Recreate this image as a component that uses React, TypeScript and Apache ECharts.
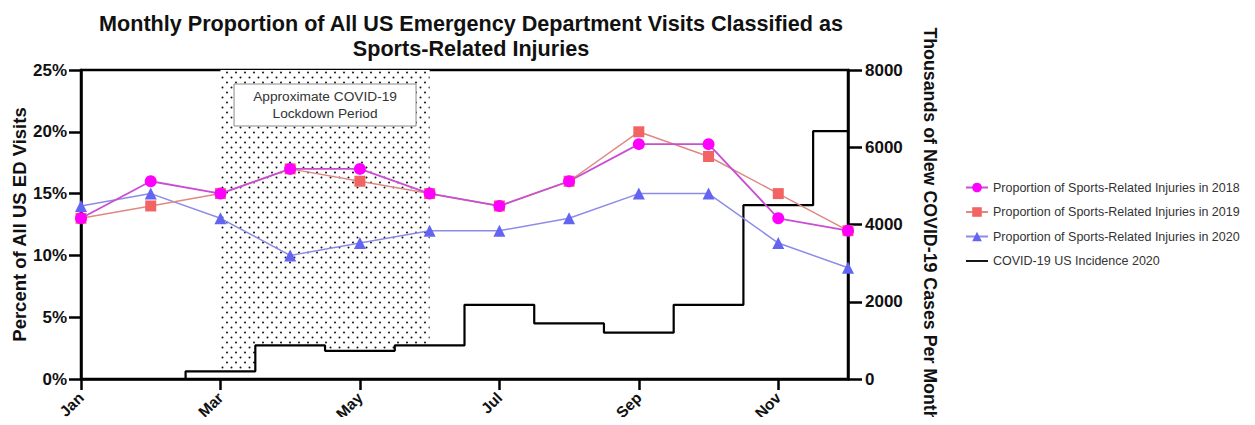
import React, { useEffect, useRef } from "react";
import * as echarts from "echarts";

const months = ["Jan", "Feb", "Mar", "Apr", "May", "Jun", "Jul", "Aug", "Sep", "Oct", "Nov", "Dec"];
const sports2018 = [13, 16, 15, 17, 17, 15, 14, 16, 19, 19, 13, 12];
const sports2019 = [13, 14, 15, 17, 16, 15, 14, 16, 20, 18, 15, 12];
const sports2020 = [14, 15, 13, 10, 11, 12, 12, 13, 15, 15, 11, 9];
const covidCases = [0, 0, 200, 870, 730, 870, 1920, 1440, 1200, 1920, 4500, 6420];
const lockdownStart = 2; // Mar
const lockdownEnd = 5; // Jun
const percentMax = 25;
const casesMax = 8000;

const FONT = "'Liberation Sans', Arial, Helvetica, sans-serif";

function makeDotCanvas(): HTMLCanvasElement {
  const c = document.createElement("canvas");
  c.width = 9;
  c.height = 10;
  const ctx = c.getContext("2d")!;
  ctx.fillStyle = "#ffffff";
  ctx.fillRect(0, 0, 9, 10);
  ctx.fillStyle = "#111111";
  ctx.beginPath();
  ctx.arc(2, 2.5, 1.0, 0, Math.PI * 2);
  ctx.fill();
  ctx.beginPath();
  ctx.arc(6.5, 7.5, 1.0, 0, Math.PI * 2);
  ctx.fill();
  return c;
}

export default function App() {
  const ref = useRef<HTMLDivElement>(null);
  useEffect(() => {
    if (!ref.current) return;
    const chart = echarts.init(ref.current, undefined, { renderer: "svg" });
    const dots = makeDotCanvas();

    const lockdownRender = (params: any, api: any) => {
      const a = api.coord([lockdownStart, casesMax]);
      const b = api.coord([lockdownStart + 1, casesMax]);
      const half = (b[0] - a[0]) / 2;
      const x0 = a[0];
      const x1 = api.coord([lockdownEnd, casesMax])[0];
      const yTop = a[1];
      const yOf = (v: number) => api.coord([lockdownStart, v])[1];
      const pts: number[][] = [[x0, yTop], [x1, yTop]];
      for (let i = lockdownEnd; i >= lockdownStart; i--) {
        const cx = api.coord([i, 0])[0];
        const left = Math.max(cx - half, x0);
        const right = Math.min(cx + half, x1);
        const y = yOf(covidCases[i]);
        pts.push([right, y]);
        pts.push([left, y]);
      }
      const cx = (x0 + x1) / 2;
      const boxY = yTop + 14;
      return {
        type: "group",
        children: [
          {
            type: "polygon",
            shape: { points: pts },
            style: { fill: { image: dots, repeat: "repeat" }, stroke: "none" },
            silent: true,
          },
          {
            type: "rect",
            shape: { x: cx - 91, y: boxY, width: 182, height: 42 },
            style: { fill: "#ffffff", stroke: "#8a8a8a", lineWidth: 1 },
          },
          {
            type: "text",
            style: {
              x: cx,
              y: boxY + 21,
              text: "Approximate COVID-19\nLockdown Period",
              fill: "#333333",
              font: `13.7px ${FONT}`,
              align: "center",
              verticalAlign: "middle",
              lineHeight: 17,
            },
          },
        ],
      };
    };

    chart.setOption({
      animation: false,
      textStyle: { fontFamily: FONT },
      title: {
        text: "Monthly Proportion of All US Emergency Department Visits Classified as\nSports-Related Injuries",
        left: 466,
        textAlign: "center",
        top: 6,
        textStyle: { fontSize: 21.6, fontWeight: "bold", color: "#111", lineHeight: 25, fontFamily: FONT },
      },
      legend: {
        orient: "vertical",
        left: 960,
        top: 176,
        itemWidth: 22,
        itemHeight: 12,
        itemGap: 11.5,
        data: [
          { name: "Proportion of Sports-Related Injuries in 2018" },
          { name: "Proportion of Sports-Related Injuries in 2019" },
          { name: "Proportion of Sports-Related Injuries in 2020" },
          { name: "COVID-19 US Incidence 2020", icon: "path://M0,0 L24,0 L24,2 L0,2 Z", itemStyle: { color: "#000" } },
        ],
        textStyle: { fontSize: 12.5, color: "#333", fontFamily: FONT },
      },
      grid: {
        left: 81,
        right: 407,
        top: 70,
        bottom: 46,
        containLabel: false,
        outerBoundsMode: "none",
        show: true,
        borderColor: "#000",
        borderWidth: 2.5,
        backgroundColor: "transparent",
      },
      xAxis: {
        type: "category",
        data: months,
        boundaryGap: false,
        axisLine: { lineStyle: { color: "#000", width: 2.5 } },
        axisTick: { interval: 1, length: 11, lineStyle: { color: "#000", width: 2.5 } },
        axisLabel: {
          interval: 1,
          rotate: 45,
          fontSize: 15.5,
          fontWeight: "bold",
          color: "#111",
          margin: 16,
          fontFamily: FONT,
        },
        splitLine: { show: false },
      },
      yAxis: [
        {
          type: "value",
          min: 0,
          max: percentMax,
          interval: 5,
          position: "left",
          name: "Percent of All US ED Visits",
          nameLocation: "middle",
          nameGap: 52,
          nameMoveOverlap: false,
          nameTextStyle: { fontSize: 18.5, fontWeight: "bold", color: "#111", fontFamily: FONT },
          axisLine: { show: true, lineStyle: { color: "#000", width: 2.5 } },
          axisTick: { show: true, length: 12, lineStyle: { color: "#000", width: 2.5 } },
          axisLabel: {
            formatter: "{value}%",
            fontSize: 17,
            fontWeight: "bold",
            color: "#111",
            margin: 14,
            fontFamily: FONT,
          },
          splitLine: { show: false },
        },
        {
          type: "value",
          min: 0,
          max: casesMax,
          interval: 2000,
          position: "right",
          name: "Thousands of New COVID-19 Cases Per Month",
          nameLocation: "middle",
          nameRotate: -90,
          nameGap: 73,
          nameMoveOverlap: false,
          nameTextStyle: { fontSize: 17.8, fontWeight: "bold", color: "#111", fontFamily: FONT },
          axisLine: { show: true, lineStyle: { color: "#000", width: 2.5 } },
          axisTick: { show: true, length: 14, lineStyle: { color: "#000", width: 2.5 } },
          axisLabel: {
            formatter: (v: number) => String(v),
            fontSize: 17,
            fontWeight: "bold",
            color: "#111",
            margin: 17,
            fontFamily: FONT,
          },
          splitLine: { show: false },
        },
      ],
      series: [
        {
          type: "custom",
          name: "lockdown",
          yAxisIndex: 1,
          renderItem: lockdownRender,
          data: [[lockdownStart, lockdownEnd]],
          silent: true,
          z: 1,
        },
        {
          type: "line",
          name: "COVID-19 US Incidence 2020",
          yAxisIndex: 1,
          step: "middle",
          data: covidCases,
          symbol: "none",
          lineStyle: { color: "#000", width: 2.2 },
          itemStyle: { color: "#000" },
          z: 3,
        },
        {
          type: "line",
          name: "Proportion of Sports-Related Injuries in 2020",
          data: sports2020,
          symbol: "triangle",
          symbolSize: 12,
          lineStyle: { color: "#8c8ce8", width: 1.5 },
          itemStyle: { color: "#6464f2" },
          z: 4,
        },
        {
          type: "line",
          name: "Proportion of Sports-Related Injuries in 2019",
          data: sports2019,
          symbol: "rect",
          symbolSize: 11,
          lineStyle: { color: "#de8a82", width: 1.5 },
          itemStyle: { color: "#f26464" },
          z: 5,
        },
        {
          type: "line",
          name: "Proportion of Sports-Related Injuries in 2018",
          data: sports2018,
          symbol: "circle",
          symbolSize: 12,
          lineStyle: { color: "#c84ed2", width: 1.8 },
          itemStyle: { color: "#ff00ff" },
          z: 6,
        },
      ],
    });
    return () => chart.dispose();
  }, []);
  return <div ref={ref} style={{ width: 1255, height: 425, margin: -8 }} />;
}
